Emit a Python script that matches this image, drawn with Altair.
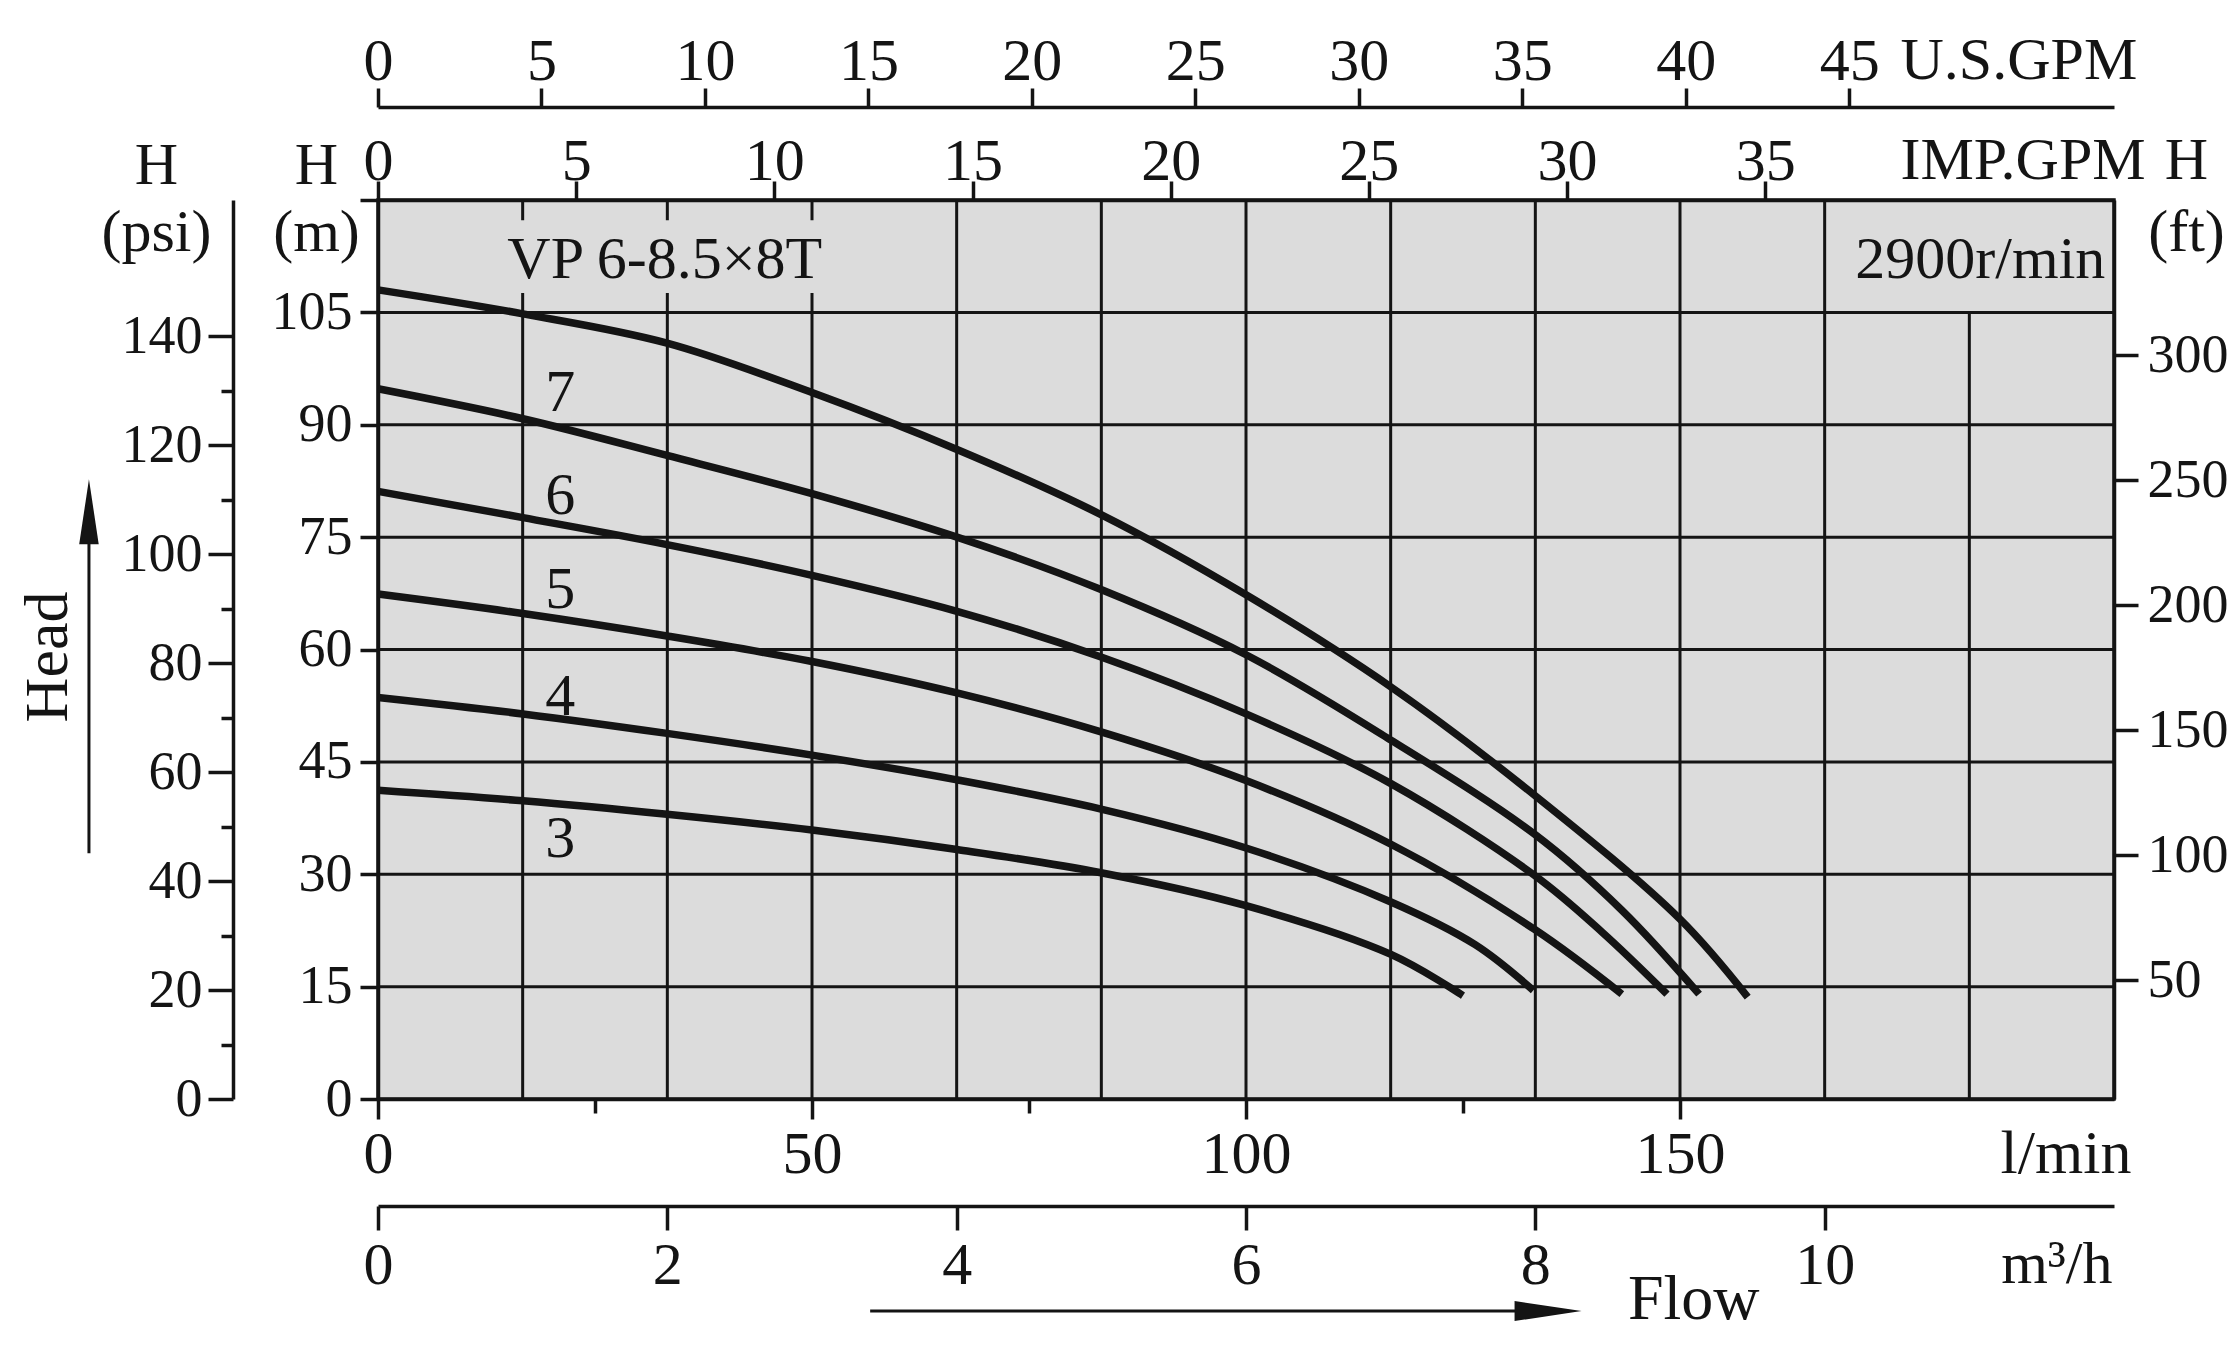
import altair as alt
import pandas as pd

FONT = "Liberation Serif"
INK = "#141414"
PANEL = "#dcdcdc"

# ---------------- data (flow in l/min, head in m) ----------------
flow_8 = [0, 16.7, 33.3, 50, 66.7, 83.3, 100, 116.7, 133.3, 150, 157.8]
head_8 = [108.0, 104.8, 100.9, 94.3, 86.7, 78.0, 67.3, 55.0, 40.5, 24.0, 13.6]
flow_7 = [0, 16.7, 33.3, 50, 66.7, 83.3, 100, 116.7, 133.3, 143.3, 152.2]
head_7 = [94.8, 90.8, 85.9, 80.8, 75.0, 68.0, 59.3, 47.9, 35.3, 25.2, 14.0]
flow_6 = [0, 16.7, 33.3, 50, 66.7, 83.3, 100, 116.7, 133.3, 141.0, 148.5]
head_6 = [81.1, 77.6, 74.0, 69.9, 65.1, 59.0, 51.4, 42.1, 29.8, 22.3, 14.0]
flow_5 = [0, 16.7, 33.3, 50, 66.7, 83.3, 100, 116.7, 133.3, 143.3]
head_5 = [67.4, 64.8, 61.8, 58.4, 54.2, 49.0, 42.5, 34.0, 22.6, 14.0]
flow_4 = [0, 16.7, 33.3, 50, 66.7, 83.3, 100, 116.7, 126.4, 133.1]
head_4 = [53.6, 51.4, 48.8, 45.9, 42.6, 38.7, 33.5, 26.3, 20.6, 14.5]
flow_3 = [0, 16.7, 33.3, 50, 66.7, 83.3, 100, 116.7, 125.0]
head_3 = [41.2, 39.8, 38.0, 35.9, 33.3, 30.2, 25.8, 19.3, 13.8]

stage_names = ["8", "7", "6", "5", "4", "3"]
stage_labels = ["7", "6", "5", "4", "3"]
stage_label_q = [21, 21, 21, 21, 21]
stage_label_h = [91.9, 78.1, 65.6, 51.3, 32.3]

# grid (m3/h verticals, m horizontals) and axis tick values
grid_m3h = [1, 2, 3, 4, 5, 6, 7, 8, 9, 10, 11]
grid_m3h_top = [120, 120, 120, 120, 120, 120, 120, 120, 120, 120, 105]
grid_m = [15, 30, 45, 60, 75, 90, 105]
ticks_lpm = [0, 50, 100, 150]
ticks_lpm_minor = [25, 75, 125]
ticks_m = [0, 15, 30, 45, 60, 75, 90, 105, 120]
ticks_m3h = [0, 2, 4, 6, 8, 10]
ticks_imp = [0, 5, 10, 15, 20, 25, 30, 35]
ticks_us = [0, 5, 10, 15, 20, 25, 30, 35, 40, 45]
ticks_psi = [0, 20, 40, 60, 80, 100, 120, 140]
ticks_psi_minor = [10, 30, 50, 70, 90, 110, 130]
ticks_ft = [50, 100, 150, 200, 250, 300]

# scale extents
dom_lpm = [0, 200]
dom_m = [0, 120]
dom_m3h = [0, 12]
dom_imp = [0, 43.8]
dom_us = [0, 53.1]
dom_psi = [0, 165]
dom_ft = [2.4, 362]

model_text = "VP 6-8.5×8T"
speed_text = "2900r/min"

W, H = 1736, 899

common = dict(labelFont=FONT, titleFont=FONT, labelColor=INK, titleColor=INK,
              domainColor=INK, tickColor=INK, domainWidth=3.5, tickWidth=3.5,
              grid=False, labelFontWeight="normal", titleFontWeight="normal",
              labelFlush=False, labelOverlap=False, labelBound=False)

ax_lpm = alt.Axis(orient="bottom", values=ticks_lpm, tickSize=20, labelPadding=53,
                  labelBaseline="alphabetic", labelFontSize=60, labelAlign="center",
                  title="l/min", titleX=1753, titleY=73, titleAlign="right",
                  titleBaseline="alphabetic", titleFontSize=62, titleAngle=0, **common)
ax_m = alt.Axis(orient="left", values=ticks_m,
                labelExpr="datum.value == 120 ? '' : datum.label",
                tickSize=18, labelPadding=8, labelFontSize=54, labelAlign="right",
                labelBaseline="middle", title=["H", "(m)"], titleX=-62, titleY=-17,
                titleAngle=0, titleAlign="center", titleBaseline="alphabetic",
                titleLineHeight=67, titleFontSize=60, **common)

sc_lpm = alt.Scale(domain=dom_lpm, nice=False, zero=False)
sc_m = alt.Scale(domain=dom_m, nice=False, zero=False)


def xq(field):
    return alt.X(f"{field}:Q", scale=sc_lpm, axis=ax_lpm)


def yh(field):
    return alt.Y(f"{field}:Q", scale=sc_m, axis=ax_m)


# ---------------- main layer ----------------
rows = []
for name, fl, hd in zip(stage_names, [flow_8, flow_7, flow_6, flow_5, flow_4, flow_3],
                        [head_8, head_7, head_6, head_5, head_4, head_3]):
    for q, h in zip(fl, hd):
        rows.append({"stage": name, "q": q, "H": h})
curves = pd.DataFrame(rows)

vgrid = pd.DataFrame({"q": [v * 1000 / 60 for v in grid_m3h],
                      "y0": [0] * len(grid_m3h), "y1": grid_m3h_top})
hgrid = pd.DataFrame({"H": grid_m})

grid_v = alt.Chart(vgrid).mark_rule(color=INK, strokeWidth=3).encode(
    x=xq("q"), y=yh("y0"), y2="y1:Q")
grid_h = alt.Chart(hgrid).mark_rule(color=INK, strokeWidth=3).encode(y=yh("H"))

box = alt.Chart(pd.DataFrame({"q0": [14.2], "q1": [57.5], "h0": [107.6], "h1": [117.3]})
                ).mark_rect(fill=PANEL).encode(x=xq("q0"), x2="q1:Q", y=yh("h0"), y2="h1:Q")

lines = alt.Chart(curves).mark_line(color=INK, strokeWidth=7.5, interpolate="catmull-rom",
                                    strokeCap="butt").encode(
    x=xq("q"), y=yh("H"), detail="stage:N")

lab_df = pd.DataFrame({"label": stage_labels, "q": stage_label_q, "H": stage_label_h})
stage_text = alt.Chart(lab_df).mark_text(font=FONT, fontSize=60, color=INK, align="center",
                                         baseline="alphabetic").encode(
    x=xq("q"), y=yh("H"), text="label:N")

model = alt.Chart(pd.DataFrame({"t": [model_text], "q": [14.9], "H": [109.6]})).mark_text(
    font=FONT, fontSize=60, color=INK, align="left", baseline="alphabetic").encode(
    x=xq("q"), y=yh("H"), text="t:N")
speed = alt.Chart(pd.DataFrame({"t": [speed_text], "q": [199.0], "H": [109.6]})).mark_text(
    font=FONT, fontSize=60, color=INK, align="right", baseline="alphabetic").encode(
    x=xq("q"), y=yh("H"), text="t:N")

# Flow arrow (below) and Head arrow (left)
flow_line = alt.Chart(pd.DataFrame({"q0": [56.7], "q1": [131.5], "H": [-28.3]})).mark_rule(
    color=INK, strokeWidth=3).encode(x=xq("q0"), x2="q1:Q", y=yh("H"))
flow_head = alt.Chart(pd.DataFrame({"q": [134.8], "H": [-28.3]})).mark_point(
    shape="M -1 -0.3 L 1 0 L -1 0.3 Z", size=4489, filled=True, color=INK, opacity=1).encode(
    x=xq("q"), y=yh("H"))
flow_text = alt.Chart(pd.DataFrame({"t": ["Flow"], "q": [144.0], "H": [-29.4]})).mark_text(
    font=FONT, fontSize=64, color=INK, align="left", baseline="alphabetic").encode(
    x=xq("q"), y=yh("H"), text="t:N")

head_line = alt.Chart(pd.DataFrame({"q": [-33.3], "h0": [32.8], "h1": [74.5]})).mark_rule(
    color=INK, strokeWidth=3).encode(x=xq("q"), y=yh("h0"), y2="h1:Q")
head_head = alt.Chart(pd.DataFrame({"q": [-33.3], "H": [78.4]})).mark_point(
    shape="M -0.3 1 L 0 -1 L 0.3 1 Z", size=4225, filled=True, color=INK, opacity=1).encode(
    x=xq("q"), y=yh("H"))
head_text = alt.Chart(pd.DataFrame({"t": ["Head"], "q": [-38.0], "H": [59.0]})).mark_text(
    font=FONT, fontSize=62, color=INK, align="center", baseline="middle", angle=270).encode(
    x=xq("q"), y=yh("H"), text="t:N")

main = alt.layer(grid_v, grid_h, box, lines, stage_text, model, speed,
                 flow_line, flow_head, flow_text, head_line, head_head, head_text)


# ---------------- secondary axes (independent scales) ----------------
def axis_layer(channel, domain, axis):
    df = pd.DataFrame({"v": [domain[0]]})
    enc = alt.X if channel == "x" else alt.Y
    return alt.Chart(df).mark_point(opacity=0).encode(
        **{channel: enc("v:Q", scale=alt.Scale(domain=domain, nice=False, zero=False), axis=axis)})


lpm_minor = axis_layer("x", dom_lpm, alt.Axis(
    orient="bottom", values=ticks_lpm_minor, tickSize=14, labels=False, domain=False,
    title=None, **common))

m3h = axis_layer("x", dom_m3h, alt.Axis(
    orient="bottom", offset=107, values=ticks_m3h, tickSize=24, labelPadding=53,
    labelBaseline="alphabetic", labelFontSize=60, labelAlign="center",
    title="m³/h", titleX=1734, titleY=76, titleAlign="right", titleBaseline="alphabetic",
    titleFontSize=60, titleAngle=0, **common))

imp = axis_layer("x", dom_imp, alt.Axis(
    orient="top", offset=0, values=ticks_imp, tickSize=19, labelPadding=2,
    labelBaseline="alphabetic", labelFontSize=60, labelAlign="center",
    title="IMP.GPM", titleX=1522, titleY=-22, titleAlign="left", titleBaseline="alphabetic",
    titleFontSize=60, titleAngle=0, **common))

us = axis_layer("x", dom_us, alt.Axis(
    orient="top", offset=93, values=ticks_us, tickSize=19, labelPadding=9,
    labelBaseline="alphabetic", labelFontSize=60, labelAlign="center",
    title="U.S.GPM", titleX=1522, titleY=-29, titleAlign="left", titleBaseline="alphabetic",
    titleFontSize=60, titleAngle=0, **common))

psi = axis_layer("y", dom_psi, alt.Axis(
    orient="left", offset=145, values=ticks_psi, tickSize=25, labelPadding=6,
    labelFontSize=54, labelAlign="right", labelBaseline="middle",
    title=["H", "(psi)"], titleX=-77, titleY=-17, titleAngle=0, titleAlign="center",
    titleBaseline="alphabetic", titleLineHeight=67, titleFontSize=60, **common))

psi_minor = axis_layer("y", dom_psi, alt.Axis(
    orient="left", offset=145, values=ticks_psi_minor, tickSize=12, labels=False,
    domain=False, title=None, **common))

ft = axis_layer("y", dom_ft, alt.Axis(
    orient="right", values=ticks_ft, tickSize=24, labelPadding=9,
    labelFontSize=54, labelAlign="left", labelBaseline="middle",
    title=["H", "(ft)"], titleX=72, titleY=-22, titleAngle=0, titleAlign="center",
    titleBaseline="alphabetic", titleLineHeight=72, titleFontSize=60, **common))

chart = alt.layer(main, lpm_minor, m3h, imp, us, psi, psi_minor, ft).resolve_scale(
    x="independent", y="independent"
).properties(
    width=W, height=H,
    padding={"left": 370, "top": 192, "right": 114, "bottom": 234},
    autosize=alt.AutoSizeParams(type="none"),
).configure(background="white").configure_view(stroke=INK, strokeWidth=3.5, fill=PANEL)

chart.save("out.html", embed_options={"renderer": "svg", "actions": False})
